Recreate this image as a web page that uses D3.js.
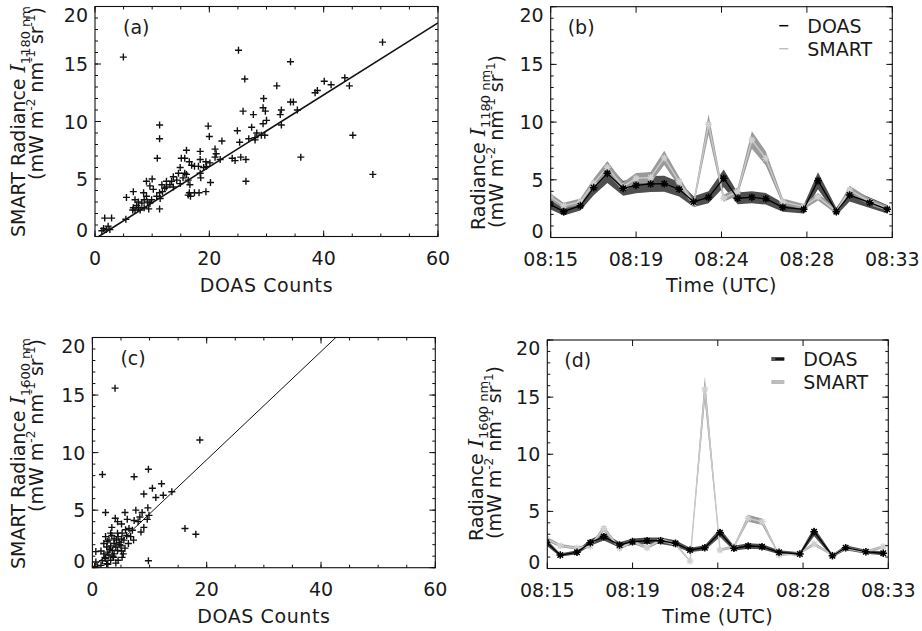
<!DOCTYPE html>
<meta charset="utf-8">
<style>
    body { margin: 0; background: white; }
    text { font-family: "DejaVu Sans", sans-serif; fill: #1a1a1a; }
</style>
<script src="https://d3js.org/d3.v7.min.js"></script>
<body>
<script>

    // ---- data ----
    // scatter: [DOAS counts, SMART radiance]
    var scatter1180 = [[4.96,15.6],[25.1,16.2],[50.3,16.9],[34.2,15.2],[26.2,13.7],[31.8,13.1],[43.7,13.8],[44.5,13.1],
        [40.1,13.5],[41.3,13.2],[38.5,12.5],[38.9,12.7],[29.5,12.0],[25.9,10.9],[29.4,11.2],[29.8,10.9],[34.2,11.7],
        [34.7,11.7],[35.4,11.0],[32.4,10.6],[32.6,11.0],[27.7,10.6],[19.8,9.6],[24.9,9.2],[27.4,9.5],[29.4,9.8],
        [30.0,10.1],[32.6,9.7],[20.0,8.7],[22.2,8.3],[25.3,8.2],[26.9,8.5],[28.0,8.6],[28.3,9.0],[29.1,8.8],[29.7,8.8],
        [28.0,8.4],[11.3,9.7],[11.3,8.5],[10.9,6.8],[45.1,8.8],[36.0,6.9],[48.6,5.4],[26.4,4.8],[20.2,4.7],[24.0,6.8],
        [24.5,6.6],[25.5,6.9],[26.4,6.7],[16.0,7.5],[15.7,6.8],[15.1,6.8],[16.5,6.5],[16.9,6.2],[17.4,6.1],[18.1,6.1],
        [18.4,7.4],[18.4,6.7],[19.4,6.5],[20.1,6.4],[21.0,6.9],[21.2,7.2],[21.0,7.6],[21.9,6.7],[18.5,5.1],[19.4,3.9],
        [16.5,3.8],[16.3,3.6],[16.7,3.5],[17.4,3.8],[18.2,3.8],[16.6,4.5],[14.9,4.6],[15.7,5.5],[16.0,5.4],[16.3,4.9],
        [15.4,5.1],[14.3,4.9],[13.4,4.8],[13.1,4.5],[13.7,4.3],[12.5,4.3],[12.2,4.2],[11.8,3.9],[11.3,3.8],[10.8,3.5],
        [11.4,3.3],[11.3,2.4],[10.2,4.1],[10.0,5.0],[9.0,4.8],[9.6,4.4],[8.5,3.8],[9.0,3.5],[9.9,3.2],[9.6,2.9],
        [9.2,3.0],[8.6,3.2],[8.2,2.9],[7.6,3.0],[6.7,3.9],[7.0,3.2],[7.3,2.7],[6.7,2.5],[6.6,2.3],[7.0,2.3],[7.6,2.5],
        [7.9,2.3],[8.6,2.5],[9.4,2.4],[5.5,3.4],[5.4,1.5],[1.7,1.6],[2.9,1.6],[1.5,0.7],[2.3,0.9],[2.0,0.6],[2.6,0.6],
        [1.2,0.5],[13.7,5.2],[14.6,5.5],[12.5,4.8],[11.7,4.5],[18.4,5.5],[19.0,6.0],[14.9,6.0],[19.5,6.1]]

    var scatter1600 = [[3.96,15.6],[18.8,11.1],[1.75,8.1],[7.3,7.9],[9.8,8.55],[9.0,6.4],[10.5,6.9],[11.1,6.1],
        [12.1,7.3],[12.4,6.3],[13.9,6.6],[16.2,3.4],[18.1,2.9],[9.8,0.6],[2.3,4.8],[4.0,4.3],[5.7,4.8],[7.6,5.0],
        [8.7,4.8],[9.7,5.2],[8.3,4.4],[9.6,4.2],[9.9,4.55],[7.3,4.1],[6.1,4.2],[5.1,3.8],[4.4,4.0],[3.4,3.5],[6.4,3.4],
        [5.8,3.3],[9.0,3.5],[8.0,4.0],[3.2,3.0],[4.4,3.0],[5.2,3.0],[6.0,2.8],[7.2,2.4],[6.7,2.7],[5.5,2.4],[4.7,2.2],
        [3.8,2.1],[2.6,2.3],[2.5,1.8],[3.2,1.9],[4.1,1.8],[5.0,1.9],[5.7,1.7],[1.5,1.45],[0.6,1.4],[2.0,1.2],[2.9,1.1],
        [3.8,1.2],[5.2,0.9],[2.3,0.8],[3.2,0.65],[4.1,0.4],[2.5,0.35],[1.5,0.2],[0.6,0.5],[0.4,0.1],[0.9,0.05],
        [1.75,0.6],[2.7,1.35],[3.5,1.5],[4.4,1.5],[5.1,1.45],[3.8,2.5],[4.5,2.7],[5.1,2.5],[2.0,2.1],[2.3,2.7],
        [2.9,2.4],[7.0,3.25],[8.5,3.1],[2.2,0.9],[3.7,0.9],[4.5,0.65],[3.0,1.6],[4.8,2.0],[3.4,2.8],[6.3,2.1],
        [5.4,1.2],[2.7,0.3],[4.2,2.4],[3.6,1.0]]

    // linear fits drawn in (a) and (c)
    var fit1180 = { slope: 0.313, intercept: -0.2 }
    var fit1600 = { slope: 0.47, intercept: -0.02 }

    // time series (UTC); first sample lies just before the plotted window
    var times = ["08:14:57", "08:15:41", "08:16:34", "08:17:16", "08:17:59", "08:18:49", "08:19:30", "08:20:16",
        "08:20:59", "08:21:46", "08:22:32", "08:23:19", "08:24:07", "08:24:51", "08:25:36", "08:26:20", "08:27:14",
        "08:28:20", "08:29:05", "08:30:03", "08:30:45", "08:31:49", "08:32:44"]
    var doas1180 = [2.9, 2.24, 2.76, 4.32, 5.56, 4.26, 4.52, 4.64, 4.66, 4.18, 3.10, 3.48, 5.13, 3.40, 3.48, 3.36,
        2.62, 2.44, 4.92, 2.24, 3.68, 3.02, 2.44]
    var smart1180 = [3.55, 2.76, 3.1, 4.7, 6.08, 4.4, 5.13, 5.2, 6.9, 4.83, 2.96, 9.8, 3.4, 3.97, 8.45, 6.86,
        3.1, 2.67, 3.53, 2.24, 4.12, 3.1, 2.53]
    var doas1600 = [2.3, 1.18, 1.42, 2.26, 2.78, 2.06, 2.35, 2.43, 2.43, 2.2, 1.62, 1.82, 3.13, 1.77, 1.97, 1.91,
        1.42, 1.27, 3.22, 1.12, 1.82, 1.47, 1.33]
    var smart1600 = [2.6, 2.0, 1.79, 1.95, 3.5, 1.77, 2.35, 1.82, 2.5, 2.14, 0.65, 15.7, 1.62, 1.91, 4.39, 4.1,
        1.18, 1.33, 2.14, 1.18, 1.77, 1.47, 1.9]
    // relative uncertainty of each series (shaded bands)
    var doasErr1180 = 0.15, smartErr1180 = 0.09
    var doasErr1600 = 0.12, smartErr1600 = 0.07

    var timeRange = ["08:15:00", "08:33:00"]
    var timeTicks = ["08:15:00", "08:19:30", "08:24:00", "08:28:30", "08:33:00"]
    var timeTickLabels = ["08:15", "08:19", "08:24", "08:28", "08:33"]
    var countTicks = [0, 20, 40, 60]
    var radTicks = [0, 5, 10, 15, 20]

    // ---- drawing ----
    var parseT = d3.timeParse("%H:%M:%S")

    var svg = d3.select("body").append("svg")
        .attr("width", 922)
        .attr("height", 631)

    var plusPath = function (r) { return "M" + (-r) + ",0H" + r + "M0," + (-r) + "V" + r }
    var starPath = function (r) {
        var k = r * 0.72
        return plusPath(r) + "M" + (-k) + "," + (-k) + "L" + k + "," + k + "M" + (-k) + "," + k + "L" + k + "," + (-k)
    }

    function frame(g, x, y, xTicks, xLabels, xMinor, yMinor, id) {
        var x0 = x.range()[0], x1 = x.range()[1], y0 = y.range()[1], y1 = y.range()[0]

        g.append("clipPath").attr("id", id)
            .append("rect").attr("x", x0).attr("y", y0).attr("width", x1 - x0).attr("height", y1 - y0)

        g.append("rect")
            .attr("x", x0).attr("y", y0).attr("width", x1 - x0).attr("height", y1 - y0)
            .attr("fill", "none").attr("stroke", "#111").attr("stroke-width", 1.1)

        var t = g.append("g").attr("stroke", "#111").attr("stroke-width", 1)
        xMinor.forEach(function (v) {
            t.append("line").attr("x1", x(v)).attr("x2", x(v)).attr("y1", y1).attr("y2", y1 - 3)
            t.append("line").attr("x1", x(v)).attr("x2", x(v)).attr("y1", y0).attr("y2", y0 + 3)
        })
        xTicks.forEach(function (v) {
            t.append("line").attr("x1", x(v)).attr("x2", x(v)).attr("y1", y1).attr("y2", y1 - 6)
            t.append("line").attr("x1", x(v)).attr("x2", x(v)).attr("y1", y0).attr("y2", y0 + 6)
        })
        yMinor.forEach(function (v) {
            t.append("line").attr("y1", y(v)).attr("y2", y(v)).attr("x1", x0).attr("x2", x0 + 3)
            t.append("line").attr("y1", y(v)).attr("y2", y(v)).attr("x1", x1).attr("x2", x1 - 3)
        })
        radTicks.forEach(function (v) {
            t.append("line").attr("y1", y(v)).attr("y2", y(v)).attr("x1", x0).attr("x2", x0 + 6)
            t.append("line").attr("y1", y(v)).attr("y2", y(v)).attr("x1", x1).attr("x2", x1 - 6)
        })

        xTicks.forEach(function (v, i) {
            g.append("text").attr("x", x(v)).attr("y", y1 + 28)
                .attr("text-anchor", "middle").attr("font-size", "19px")
                .text(xLabels[i])
        })
        radTicks.forEach(function (v) {
            var py = Math.max(y0 + 8, Math.min(y1 - 7, y(v)))
            g.append("text").attr("x", x0 - 7).attr("y", py)
                .attr("text-anchor", "end").attr("dominant-baseline", "central").attr("font-size", "19px")
                .text(v)
        })
    }

    function yTitle(g, px, py, anchor, first, band) {
        var t1 = g.append("text").attr("font-size", "19px").attr("text-anchor", anchor)
            .attr("transform", "translate(" + px[0] + "," + py[0] + ") rotate(-90)")
        t1.append("tspan").text(first + " ")
        t1.append("tspan").attr("font-family", "DejaVu Serif, serif").attr("font-style", "italic").attr("font-size", "21px").text("I")
        t1.append("tspan").attr("font-size", "13px").attr("dy", 5).text(band + " nm")

        var t2 = g.append("text").attr("font-size", "19px").attr("text-anchor", anchor)
            .attr("transform", "translate(" + px[1] + "," + py[1] + ") rotate(-90)")
        t2.append("tspan").text("(mW m")
        t2.append("tspan").attr("font-size", "12px").attr("dy", -8).text("-2")
        t2.append("tspan").attr("dy", 8).text(" nm")
        t2.append("tspan").attr("font-size", "12px").attr("dy", -8).text("-1")
        t2.append("tspan").attr("dy", 8).text(" sr")
        t2.append("tspan").attr("font-size", "12px").attr("dy", -8).text("-1")
        t2.append("tspan").attr("dy", 8).text(")")
    }

    function scatterPanel(pts, fit, xr, yr, tag, band, id, titleY) {
        var g = svg.append("g")
        var x = d3.scaleLinear().domain([0, 60]).range(xr)
        var y = d3.scaleLinear().domain([0, 20]).range(yr)
        frame(g, x, y, countTicks, countTicks, d3.range(0, 61, 5), d3.range(0, 21, 1), id)

        var fx = [-fit.intercept / fit.slope, 60]
        g.append("line").attr("clip-path", "url(#" + id + ")")
            .attr("x1", x(fx[0])).attr("y1", y(fit.slope * fx[0] + fit.intercept))
            .attr("x2", x(fx[1])).attr("y2", y(fit.slope * fx[1] + fit.intercept))
            .attr("stroke", "#111").attr("stroke-width", id == "clipA" ? 1.6 : 1)

        g.append("g").attr("clip-path", "url(#" + id + ")")
            .selectAll("path").data(pts).enter().append("path")
            .attr("transform", function (d) { return "translate(" + x(d[0]) + "," + y(d[1]) + ")" })
            .attr("d", plusPath(3.5))
            .attr("stroke", "#111").attr("stroke-width", 1.4)

        g.append("text").attr("x", x.range()[0] + 28).attr("y", y.range()[1] + 27)
            .attr("font-size", "19px").text(tag)

        var mid = (x.range()[0] + x.range()[1]) / 2
        g.append("text").attr("x", mid).attr("y", y.range()[0] + 55)
            .attr("text-anchor", "middle").attr("font-size", "19px").attr("letter-spacing", "0.6px")
            .text("DOAS Counts")

        yTitle(g, [25, 43], [titleY, titleY + 1], "end", "SMART Radiance", band)
    }

    function timePanel(doas, smart, dErr, sErr, xr, yr, tag, band, id, titleX, titleY, thickLegend) {
        var g = svg.append("g")
        var x = d3.scaleTime().domain(timeRange.map(parseT)).range(xr)
        var y = d3.scaleLinear().domain([0, 20]).range(yr)

        var dRows = times.map(function (t, i) { return { t: parseT(t), v: doas[i] } })
        var sRows = times.map(function (t, i) { return { t: parseT(t), v: smart[i] } })

        var area = function (e) {
            return d3.area().x(function (d) { return x(d.t) })
                .y0(function (d) { return y(d.v * (1 - e)) })
                .y1(function (d) { return y(d.v * (1 + e)) })
        }
        var line = d3.line().x(function (d) { return x(d.t) }).y(function (d) { return y(d.v) })

        var c = g.append("g").attr("clip-path", "url(#" + id + ")")
        c.append("path").datum(dRows).attr("d", area(dErr)).attr("fill", "#4f4f4f")
        c.append("path").datum(sRows).attr("d", area(sErr)).attr("fill", "#9a9a9a")
        c.append("path").datum(sRows).attr("d", line).attr("fill", "none").attr("stroke", "#c8c8c8").attr("stroke-width", 1.5)
        c.selectAll(".s").data(sRows).enter().append("path")
            .attr("transform", function (d) { return "translate(" + x(d.t) + "," + y(d.v) + ")" })
            .attr("d", starPath(3.5)).attr("stroke", "#d0d0d0").attr("stroke-width", 1.3)
        c.append("path").datum(dRows).attr("d", line).attr("fill", "none").attr("stroke", "#000").attr("stroke-width", 1.3)
        c.selectAll(".d").data(dRows).enter().append("path")
            .attr("transform", function (d) { return "translate(" + x(d.t) + "," + y(d.v) + ")" })
            .attr("d", starPath(3.8)).attr("stroke", "#000").attr("stroke-width", 1.5)

        frame(g, x, y, timeTicks.map(parseT), timeTickLabels, [], d3.range(0, 21, 1), id)

        g.append("text").attr("x", x.range()[0] + 17).attr("y", y.range()[1] + 27)
            .attr("font-size", "19px").text(tag)

        // legend
        var lx = x.range()[1] - 113, ly = y.range()[1] + 19
        var names = ["DOAS", "SMART"], cols = ["#000", "#c0c0c0"], bands = ["#555", "#bbb"]
        names.forEach(function (n, i) {
            if (thickLegend)
                g.append("line").attr("x1", lx - 4).attr("x2", lx + 9).attr("y1", ly + i * 23).attr("y2", ly + i * 23)
                    .attr("stroke", bands[i]).attr("stroke-width", 4)
            g.append("line").attr("x1", lx).attr("x2", lx + 9).attr("y1", ly + i * 23).attr("y2", ly + i * 23)
                .attr("stroke", cols[i]).attr("stroke-width", 1.5)
            g.append("text").attr("x", lx + 28).attr("y", ly + i * 23 + 7)
                .attr("font-size", "19px").text(n)
        })

        var mid = (x.range()[0] + x.range()[1]) / 2
        g.append("text").attr("x", mid).attr("y", y.range()[0] + 54)
            .attr("text-anchor", "middle").attr("font-size", "19px").attr("letter-spacing", "0.6px")
            .text("Time (UTC)")

        yTitle(g, [titleX, titleX + 18], [titleY, titleY - 2], "start", "Radiance", band)
    }

    scatterPanel(scatter1180, fit1180, [95, 438], [236.5, 6.5], "(a)", "1180", "clipA", 6)
    timePanel(doas1180, smart1180, doasErr1180, smartErr1180, [550.7, 892.3], [237.5, 6.7], "(b)", "1180", "clipB", 485, 230, false)
    scatterPanel(scatter1600, fit1600, [92.4, 435.3], [567.7, 337.5], "(c)", "1600", "clipC", 338)
    timePanel(doas1600, smart1600, doasErr1600, smartErr1600, [547.3, 888.3], [568.5, 340], "(d)", "1600", "clipD", 483, 541, true)

</script>
